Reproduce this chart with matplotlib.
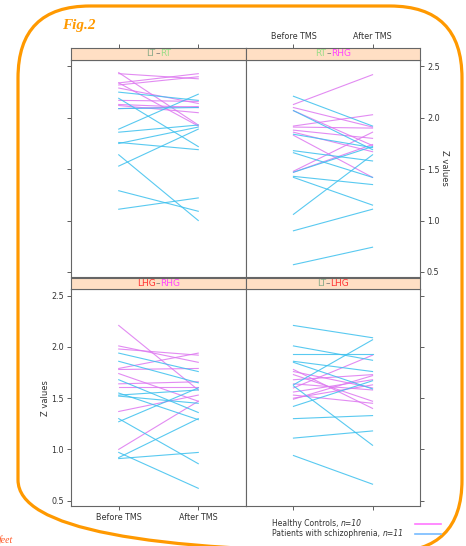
import matplotlib
matplotlib.use('Agg')
import matplotlib.pyplot as plt
from matplotlib.patches import FancyBboxPatch
from matplotlib.lines import Line2D
from matplotlib.offsetbox import TextArea, HPacker, AnchoredOffsetbox

# ---- data: Z values before / after TMS, one line per subject ----
times = ['Before TMS', 'After TMS']

# LT-RT
lt_rt_ctrl_before = [2.44, 2.43, 2.34, 2.32, 2.29, 2.17, 2.13, 2.12, 2.09, 2.34]
lt_rt_ctrl_after = [1.93, 2.38, 2.43, 2.40, 2.14, 2.16, 2.10, 2.05, 2.11, 1.92]
lt_rt_pat_before = [2.25, 2.19, 2.09, 1.89, 1.86, 1.76, 1.75, 1.64, 1.53, 1.29, 1.11]
lt_rt_pat_after = [2.17, 1.72, 2.10, 2.23, 1.93, 1.69, 1.91, 1.00, 1.89, 1.09, 1.22]

# RT-RHG
rt_rhg_ctrl_before = [2.13, 2.10, 2.07, 1.92, 1.91, 1.88, 1.86, 1.83, 1.48, 1.47]
rt_rhg_ctrl_after = [2.42, 1.91, 1.73, 2.03, 1.90, 1.80, 1.67, 1.42, 1.86, 1.74]
rt_rhg_pat_before = [2.21, 2.07, 1.84, 1.68, 1.66, 1.47, 1.43, 1.42, 1.06, 0.90, 0.57]
rt_rhg_pat_after = [1.92, 1.69, 1.71, 1.58, 1.42, 1.72, 1.35, 1.15, 1.64, 1.11, 0.74]

# LHG-RHG
lhg_rhg_ctrl_before = [2.21, 2.01, 1.98, 1.79, 1.78, 1.74, 1.64, 1.61, 1.37, 1.00]
lhg_rhg_ctrl_after = [1.58, 1.85, 1.92, 1.94, 1.79, 1.47, 1.66, 1.61, 1.53, 1.47]
lhg_rhg_pat_before = [1.94, 1.86, 1.68, 1.55, 1.53, 1.52, 1.30, 1.27, 0.97, 0.92, 0.91]
lhg_rhg_pat_after = [1.76, 1.65, 1.36, 1.29, 1.58, 1.45, 0.86, 1.60, 0.62, 1.30, 0.97]

# LT-LHG
lt_lhg_ctrl_before = [1.78, 1.76, 1.73, 1.68, 1.64, 1.60, 1.56, 1.53, 1.50, 1.49]
lt_lhg_ctrl_after = [1.40, 1.60, 1.47, 1.73, 1.58, 1.92, 1.68, 1.45, 1.63, 1.72]
lt_lhg_pat_before = [2.21, 2.01, 1.93, 1.86, 1.85, 1.63, 1.62, 1.42, 1.30, 1.11, 0.94]
lt_lhg_pat_after = [2.09, 1.87, 1.93, 1.76, 1.59, 2.07, 1.04, 1.67, 1.33, 1.18, 0.66]

yticks = [0.5, 1.0, 1.5, 2.0, 2.5]
key_labels = [('Healthy Controls, ', 'n=10'),
              ('Patients with schizophrenia, ', 'n=11')]

CTRL = '#dd77f0'
PAT = '#3cc0ee'
LTC, RTC, LHGC, RHGC = '#88aa88', '#99dd88', '#ff3333', '#ff44ff'
ORANGE = '#ff9900'
FRAME = '#666666'
TXT = '#333333'

W, H = 466, 546
fig = plt.figure(figsize=(W / 100, H / 100), dpi=100)

# background layer in pixel coordinates
bg = fig.add_axes([0, 0, 1, 1])
bg.set_xlim(0, W)
bg.set_ylim(H, 0)
bg.axis('off')
bg.add_patch(FancyBboxPatch((18, 6), 444, 546,
                            boxstyle='round,pad=0,rounding_size=72',
                            fc='none', ec=ORANGE, lw=2.3))
bg.text(62, 26, 'Fig.2', color=ORANGE, fontsize=11, fontweight='bold',
        fontstyle='italic', family='Liberation Serif', va='center')
bg.text(-1, 535, 'feet', color='#ff5522', fontsize=7, fontstyle='italic',
        family='Liberation Serif', va='top')


def px_axes(x0, y0, x1, y1):
    return fig.add_axes([x0 / W, 1 - y1 / H, (x1 - x0) / W, (y1 - y0) / H])


def style(ax):
    for sp in ax.spines.values():
        sp.set_color(FRAME)
        sp.set_linewidth(0.8)
    ax.tick_params(direction='out', length=3, width=0.6, colors='#444444',
                   labelsize=5.8, labelcolor=TXT, pad=2)


def add_strip(x0, y0, x1, y1, parts, top_ticks=False, top_labels=False):
    st = px_axes(x0, y0, x1, y1)
    st.set_facecolor('#ffdfc4')
    style(st)
    st.set_xlim(0.4, 2.6)
    st.set_yticks([])
    st.set_xticks([1, 2])
    st.set_xticklabels(times)
    st.tick_params(axis='x', bottom=False, labelbottom=False,
                   top=top_ticks, labeltop=top_labels)
    boxes = [TextArea(t, textprops=dict(color=c, fontsize=6.5)) for t, c in parts]
    pack = HPacker(children=boxes, align='center', pad=0, sep=0)
    st.add_artist(AnchoredOffsetbox(loc='center', child=pack, frameon=False,
                                    pad=0, borderpad=0))
    return st


def add_panel(x0, y0, x1, y1, ctrl_b, ctrl_a, pat_b, pat_a):
    ax = px_axes(x0, y0, x1, y1)
    style(ax)
    for b, a in zip(ctrl_b, ctrl_a):
        ax.plot([1, 2], [b, a], color=CTRL, lw=0.8, alpha=0.85)
    for b, a in zip(pat_b, pat_a):
        ax.plot([1, 2], [b, a], color=PAT, lw=0.8, alpha=0.85)
    ax.set_xlim(0.4, 2.6)
    ax.set_ylim(0.447, 2.566)
    ax.set_xticks([1, 2])
    ax.set_xticklabels(times)
    ax.set_yticks(yticks)
    ax.set_yticklabels(['%.1f' % v for v in yticks])
    return ax


L0, L1, R1 = 71, 246, 420
T_strip, T0, T1 = 48, 59.7, 277.3
B_strip, B0, B1 = 278.3, 289, 506

# top-left: LT-RT
ax = add_panel(L0, T0, L1, T1, lt_rt_ctrl_before, lt_rt_ctrl_after,
               lt_rt_pat_before, lt_rt_pat_after)
ax.tick_params(axis='x', bottom=False, labelbottom=False)
ax.tick_params(axis='y', left=True, labelleft=False)
add_strip(L0, T_strip, L1, T0, [('LT', LTC), ('\u2013', '#777777'), ('RT', RTC)],
          top_ticks=True)

# top-right: RT-RHG
ax = add_panel(L1, T0, R1, T1, rt_rhg_ctrl_before, rt_rhg_ctrl_after,
               rt_rhg_pat_before, rt_rhg_pat_after)
ax.tick_params(axis='x', bottom=False, labelbottom=False)
ax.tick_params(axis='y', left=False, labelleft=False, right=True, labelright=True)
add_strip(L1, T_strip, R1, T0, [('RT', RTC), ('\u2013', '#777777'), ('RHG', RHGC)],
          top_ticks=True, top_labels=True)

# bottom-left: LHG-RHG
ax = add_panel(L0, B0, L1, B1, lhg_rhg_ctrl_before, lhg_rhg_ctrl_after,
               lhg_rhg_pat_before, lhg_rhg_pat_after)
add_strip(L0, B_strip, L1, B0, [('LHG', LHGC), ('\u2013', '#777777'), ('RHG', RHGC)])

# bottom-right: LT-LHG
ax = add_panel(L1, B0, R1, B1, lt_lhg_ctrl_before, lt_lhg_ctrl_after,
               lt_lhg_pat_before, lt_lhg_pat_after)
ax.tick_params(axis='x', labelbottom=False)
ax.tick_params(axis='y', left=False, labelleft=False, right=True, labelright=False)
add_strip(L1, B_strip, R1, B0, [('LT', LTC), ('\u2013', '#777777'), ('LHG', LHGC)])

# axis titles
bg.text(445, 168, 'Z values', rotation=270, fontsize=6, color=TXT,
        ha='center', va='center')
bg.text(46, 398, 'Z values', rotation=90, fontsize=6, color=TXT,
        ha='center', va='center')

# key
key_colors = ['#ff77ff', '#77bbff']
for (plain, italic), kc, ky in zip(key_labels, key_colors, [524, 533.5]):
    pack = HPacker(children=[
        TextArea(plain, textprops=dict(fontsize=5.5, color=TXT)),
        TextArea(italic, textprops=dict(fontsize=5.5, color=TXT,
                                        fontstyle='italic'))],
        align='baseline', pad=0, sep=0)
    bg.add_artist(AnchoredOffsetbox(loc='center left', child=pack,
                                    frameon=False, pad=0, borderpad=0,
                                    bbox_to_anchor=(272, ky),
                                    bbox_transform=bg.transData))
    bg.add_line(Line2D([415, 441], [ky, ky], color=kc, lw=1.2))

fig.savefig('out.png', dpi=100)
